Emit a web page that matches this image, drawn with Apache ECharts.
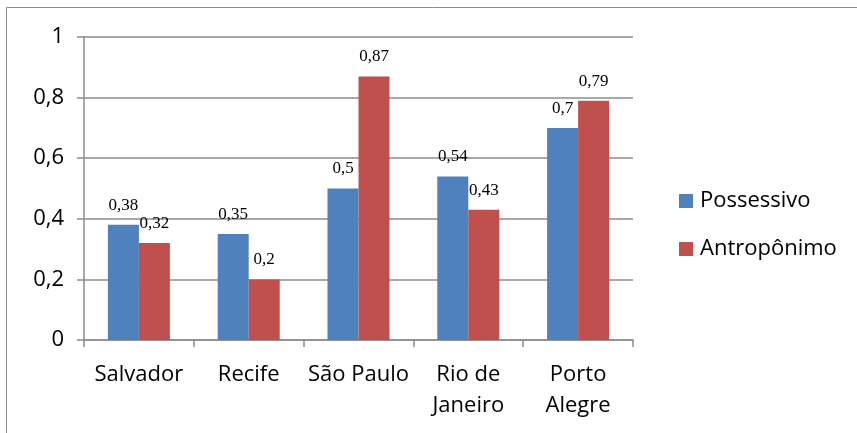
<!DOCTYPE html>
<html><head><meta charset="utf-8">
<script src="https://cdn.jsdelivr.net/npm/echarts@6/dist/echarts.min.js"></script>
<style>html,body{margin:0;padding:0;background:#fff}#c{width:857px;height:433px}</style>
</head><body><div id="c"></div>
<script>
const categories = ['Salvador', 'Recife', 'São Paulo', 'Rio de\nJaneiro', 'Porto\nAlegre'];
const possessivo = [0.38, 0.35, 0.5, 0.54, 0.7];
const antroponimo = [0.32, 0.2, 0.87, 0.43, 0.79];
const seriesNames = ['Possessivo', 'Antropônimo'];
const yTicks = [0, 0.2, 0.4, 0.6, 0.8, 1];

const comma = v => String(v).replace('.', ',');
const chart = echarts.init(document.getElementById('c'));
const labelStyle = {
  show: true, position: 'top', distance: 11,
  fontFamily: 'Liberation Serif', fontSize: 17, color: '#000',
  formatter: p => comma(p.value)
};
chart.setOption({
  animation: false,
  graphic: [{
    type: 'rect', shape: { x: 6.5, y: 7.5, width: 900, height: 500 },
    style: { fill: 'none', stroke: '#8c8c8c', lineWidth: 1 }
  }],
  grid: { left: 84, right: 224, top: 37, bottom: 93, containLabel: false },
  legend: {
    orient: 'vertical', left: 674, top: 185, itemWidth: 14, itemHeight: 14, itemGap: 26,
    icon: 'rect',
    textStyle: { fontFamily: 'Open Sans', fontSize: 22, color: '#000', padding: [0, 0, 0, 2] },
    data: seriesNames
  },
  xAxis: {
    type: 'category', data: categories,
    axisLine: { lineStyle: { color: '#8c8c8c', width: 1.5 } },
    axisTick: { show: true, length: 7, lineStyle: { color: '#8c8c8c', width: 1.5 } },
    axisLabel: { interval: 0, fontFamily: 'Open Sans', fontSize: 22, color: '#000', margin: 19, lineHeight: 31 }
  },
  yAxis: {
    type: 'value', min: 0, max: 1, interval: 0.2,
    axisLine: { show: true, lineStyle: { color: '#8c8c8c', width: 1.5 } },
    axisTick: { show: true, length: 7, lineStyle: { color: '#8c8c8c', width: 1.5 } },
    splitLine: { lineStyle: { color: '#8c8c8c', width: 1.5 } },
    axisLabel: {
      fontFamily: 'Open Sans', fontSize: 22, color: '#000', margin: 20,
      formatter: v => yTicks.includes(Math.round(v * 10) / 10) ? comma(Math.round(v * 10) / 10) : ''
    }
  },
  series: [
    { name: seriesNames[0], type: 'bar', data: possessivo, barWidth: 31, barGap: '0%',
      itemStyle: { color: '#4F81BD' }, label: labelStyle },
    { name: seriesNames[1], type: 'bar', data: antroponimo, barWidth: 31, barGap: '0%',
      itemStyle: { color: '#C0504D' }, label: labelStyle }
  ]
});
</script></body></html>
